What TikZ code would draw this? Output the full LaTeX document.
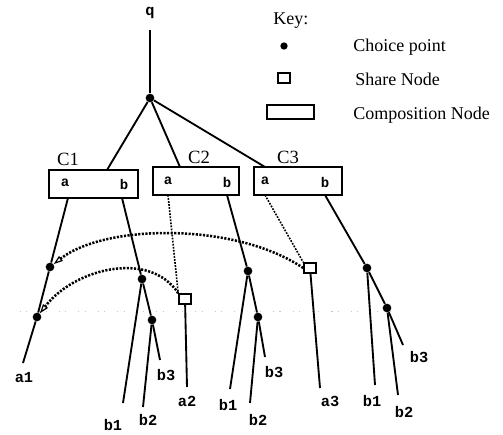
\documentclass[tikz,border=0pt]{standalone}
\usepackage{fontspec}
\setmainfont{Liberation Serif}
\setmonofont{Liberation Mono}
\usetikzlibrary{arrows.meta}
\begin{document}
\begin{tikzpicture}[x=0.75pt,y=-0.75pt,
  cp/.style={circle,fill=black,inner sep=0pt,minimum size=6.5pt},
  sharenode/.style={draw,line width=1.2pt,inner sep=0pt,minimum width=9pt,minimum height=7.5pt},
  compbox/.style={draw,line width=1.6pt,inner sep=0pt},
  lbl/.style={font=\fontsize{11.5}{12}\selectfont\ttfamily\bfseries,inner sep=1pt},
  blbl/.style={font=\fontsize{10.5}{11}\selectfont\ttfamily\bfseries,inner sep=0pt},
  clbl/.style={font=\fontsize{14}{15}\selectfont,inner sep=0pt},
  keytxt/.style={font=\fontsize{13.5}{15}\selectfont,anchor=west,inner sep=0pt},
  edge/.style={line width=1.4pt},
  sharelink/.style={line width=1.2pt,dash pattern=on 1.3pt off 1pt},
  arcline/.style={line width=1.9pt,dash pattern=on 1.6pt off 1.1pt},
  faint/.style={gray!45,line width=0.7pt,dash pattern=on 0.8pt off 4pt on 0.8pt off 9pt}
]
\useasboundingbox (0,0) rectangle (503,435);

% faint horizontal line
\coordinate (hl) at (20,311);
\coordinate (hr) at (395,311);
\draw[faint] (hl) -- (hr);

% root
\node[lbl] (q) at (150,13) {q};
\node[cp] (root) at (150,98) {};
\coordinate (qs) at (150,30);
\draw[edge] (qs) -- (root);

% composition boxes
\node[compbox,minimum width=67pt,minimum height=21pt] (C1) at (93.5,184) {};
\node[compbox,minimum width=64.5pt,minimum height=21pt] (C2) at (196,181) {};
\node[compbox,minimum width=66pt,minimum height=21pt] (C3) at (298,181) {};
\node[clbl] (C1l) at (68,159) {C1};
\node[clbl] (C2l) at (199,157) {C2};
\node[clbl] (C3l) at (288,157) {C3};
\node[blbl] (C1al) at (65,183) {a};
\node[blbl] (C1bl) at (124,184) {b};
\node[blbl] (C2al) at (168,181) {a};
\node[blbl] (C2bl) at (227,182) {b};
\node[blbl] (C3al) at (265,181) {a};
\node[blbl] (C3bl) at (325,182) {b};

% ports
\coordinate (C1t) at (107,170);
\coordinate (C2t) at (180,167);
\coordinate (C3t) at (265,167);
\coordinate (C1a) at (68,198);
\coordinate (C1b) at (122,198);
\coordinate (C2a) at (168,195);
\coordinate (C2b) at (227,195);
\coordinate (C3a) at (265,195);
\coordinate (C3b) at (325,195);

\draw[edge] (root) -- (C1t);
\draw[edge] (root) -- (C2t);
\draw[edge] (root) -- (C3t);

% C1 a branch
\node[cp] (p1) at (50,267) {};
\node[cp] (p2) at (37,317) {};
\coordinate (a1e) at (23,363);
\node[lbl] (a1) at (24,378) {a1};
\draw[edge] (C1a) -- (p1) -- (p2) -- (a1e);

% C1 b branch
\node[cp] (p3) at (142,279) {};
\node[cp] (p4) at (152,320) {};
\coordinate (b11e) at (123,403);
\coordinate (b12e) at (143,407);
\coordinate (b13e) at (160,360);
\node[lbl] (b11) at (113,425) {b1};
\node[lbl] (b12) at (148,420) {b2};
\node[lbl] (b13) at (166,375) {b3};
\draw[edge] (C1b) -- (p3) -- (b11e);
\draw[edge] (p3) -- (p4) -- (b13e);
\draw[edge] (p4) -- (b12e);

% C2 a share
\node[sharenode] (s2) at (185,299) {};
\coordinate (a2e) at (187,387);
\node[lbl] (a2) at (187,401) {a2};
\draw[sharelink] (C2a) -- (s2.north west);
\draw[edge] (s2) -- (a2e);

% C2 b branch
\node[cp] (p5) at (248,271) {};
\node[cp] (p6) at (258,317) {};
\coordinate (b21e) at (230,389);
\coordinate (b22e) at (250,403);
\coordinate (b23e) at (265,357);
\node[lbl] (b21) at (228,405) {b1};
\node[lbl] (b22) at (258,420) {b2};
\node[lbl] (b23) at (274,372) {b3};
\draw[edge] (C2b) -- (p5) -- (b21e);
\draw[edge] (p5) -- (p6) -- (b23e);
\draw[edge] (p6) -- (b22e);

% C3 a share
\node[sharenode] (s3) at (310,268) {};
\coordinate (a3e) at (320,388);
\node[lbl] (a3) at (330,401) {a3};
\draw[sharelink] (C3a) -- (s3.north west);
\draw[edge] (s3) -- (a3e);

% C3 b branch
\node[cp] (p7) at (367,268) {};
\node[cp] (p8) at (387,308) {};
\coordinate (b31e) at (375,385);
\coordinate (b32e) at (398,395);
\coordinate (b33e) at (403,345);
\node[lbl] (b31) at (372,401) {b1};
\node[lbl] (b32) at (404,412) {b2};
\node[lbl] (b33) at (419,357) {b3};
\draw[edge] (C3b) -- (p7) -- (b31e);
\draw[edge] (p7) -- (p8) -- (b33e);
\draw[edge] (p8) -- (b32e);

% sharing arcs
\draw[arcline,-{Triangle[open,length=7pt,width=4.5pt,line width=0.9pt]}]
  (s3.west) .. controls (235,222) and (105,224) .. (p1);
\draw[arcline,-{Triangle[open,length=7pt,width=4.5pt,line width=0.9pt]}]
  (s2.north west) .. controls (150,250) and (75,268) .. (p2);

% key
\node[keytxt] (keyt) at (273,21) {Key:};
\node[cp,minimum size=5.5pt] (kcp) at (284,46) {};
\node[keytxt] (kcpt) at (353,47) {Choice point};
\node[sharenode] (ksn) at (284,78) {};
\node[keytxt] (ksnt) at (355,79) {Share Node};
\node[compbox,line width=1.4pt,minimum width=35pt,minimum height=11pt] (kbox) at (290.5,112) {};
\node[keytxt] (kboxt) at (353,115) {Composition Node};
\end{tikzpicture}
\end{document}
